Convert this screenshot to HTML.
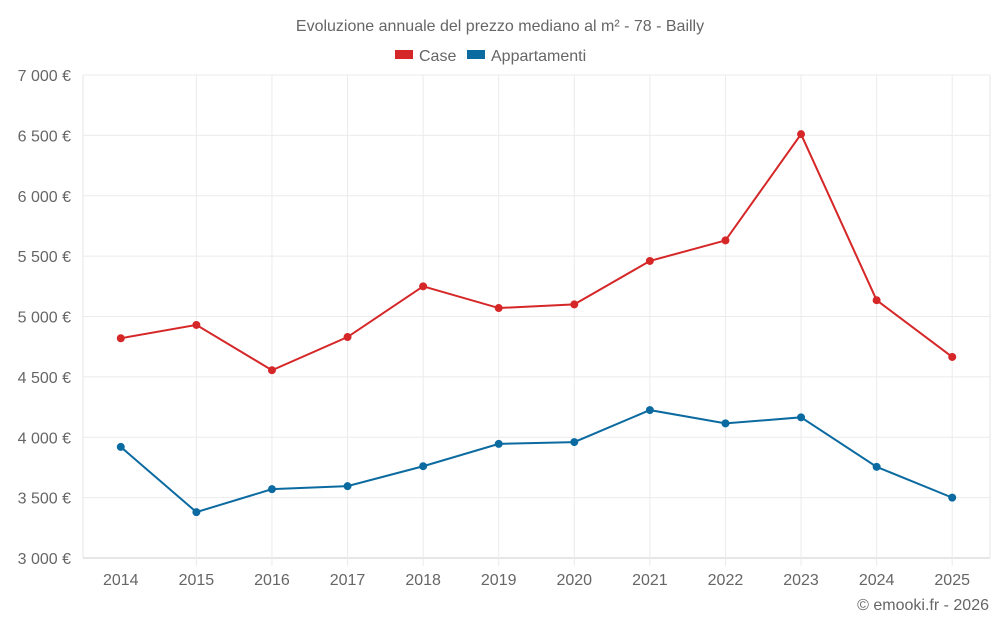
<!DOCTYPE html>
<html><head><meta charset="utf-8"><style>
body{margin:0;background:#fff;font-family:"Liberation Sans",sans-serif;}
svg text{font-family:"Liberation Sans",sans-serif;fill:#666;}
</style></head><body>
<svg id="c" width="1000" height="625">
<text x="500" y="31" text-anchor="middle" font-size="16">Evoluzione annuale del prezzo mediano al m² - 78 - Bailly</text>
<g>
<rect x="395" y="50" width="18" height="9" fill="#d62728"/>
<text x="419" y="61" font-size="16">Case</text>
<rect x="467" y="50" width="18" height="9" fill="#0b6aa0"/>
<text x="491" y="61" font-size="16">Appartamenti</text>
</g>
<g id="grid"></g><g id="axes"></g><g id="series"></g>
<text x="989" y="610" text-anchor="end" font-size="16">© emooki.fr - 2026</text>
</svg>
<script>
const years=["2014","2015","2016","2017","2018","2019","2020","2021","2022","2023","2024","2025"];
const caseVals=[4820,4930,4555,4830,5250,5070,5100,5460,5630,6510,5135,4665];
const appVals=[3920,3380,3570,3595,3760,3945,3960,4225,4115,4165,3755,3500];
const yTicks=[3000,3500,4000,4500,5000,5500,6000,6500,7000];
const NS="http://www.w3.org/2000/svg";
const L=83,R=990,T=75,B=558,yMin=3000,yMax=7000;
const step=(R-L)/years.length;
const x=i=>L+step*(i+0.5);
const y=v=>B-(v-yMin)/(yMax-yMin)*(B-T);
function mk(tag,attrs,parent){const e=document.createElementNS(NS,tag);for(const k in attrs)e.setAttribute(k,attrs[k]);document.getElementById(parent).appendChild(e);return e;}
const fmt=v=>{const s=String(v);return s.slice(0,s.length-3)+" "+s.slice(-3)+" €";};
yTicks.forEach(t=>{
  const g=mk("line",{x1:L,x2:R,y1:y(t),y2:y(t),stroke:t===yMin?"#ccc":"#ebebeb"},"grid");
  
  
  const tx=mk("text",{x:71,y:y(t)+6,"text-anchor":"end","font-size":"16"},"axes");
  tx.textContent=fmt(t);
  
  
});
[L,R].forEach(gx=>{
  const g=mk("line",{x1:gx,x2:gx,y1:T,y2:B,stroke:"#e6e6e6"},"grid");
  
  
});
years.forEach((yr,i)=>{
  if(i>0){
    const g=mk("line",{x1:x(i),x2:x(i),y1:T,y2:B+8,stroke:"#ebebeb"},"grid");
    
    
  }
  const tx=mk("text",{x:x(i),y:585,"text-anchor":"middle","font-size":"16"},"axes");
  tx.textContent=yr;
  
  
});
function series(vals,color,name){
  const p=mk("polyline",{points:vals.map((v,i)=>x(i)+","+y(v)).join(" "),fill:"none",stroke:color,"stroke-width":"2"},"series");
  
  
  vals.forEach((v,i)=>{
    const c=mk("circle",{cx:x(i),cy:y(v),r:4,fill:color},"series");
    
    
  });
}
series(caseVals,"#d62728","case");
series(appVals,"#0b6aa0","appartamenti");
</script>
</body></html>
